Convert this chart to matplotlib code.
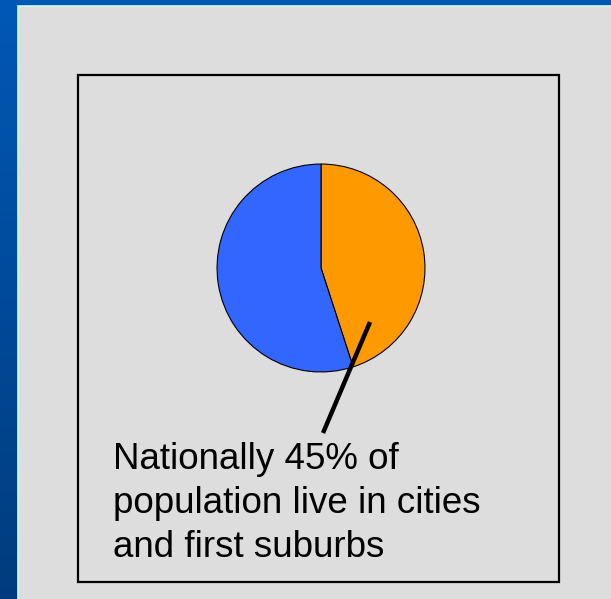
import matplotlib
matplotlib.use("Agg")
import matplotlib.pyplot as plt
import numpy as np
from matplotlib.patches import Rectangle

# share of population: cities + first suburbs vs. the rest
shares = [45, 55]
slice_colors = ["#FF9900", "#3366FF"]
note_lines = ["Nationally 45% of", "population live in cities", "and first suburbs"]

W, H = 611, 599
fig = plt.figure(figsize=(W / 100, H / 100), dpi=100)

# full-figure canvas in pixel units (y downward)
bg = fig.add_axes([0, 0, 1, 1])
bg.set_xlim(0, W)
bg.set_ylim(H, 0)
bg.axis("off")

# blue slide background, slightly darker toward the bottom
grad = np.linspace(0, 1, 256).reshape(-1, 1)
top = np.array([0, 88, 182]) / 255
bot = np.array([0, 60, 125]) / 255
img = top + (bot - top) * grad[..., None]
bg.imshow(img, extent=[0, W, H, 0], aspect="auto", zorder=0)

# grey panel with a thin light edge
bg.add_patch(Rectangle((18, 6), W, H, facecolor="#DDDDDD",
                       edgecolor="#C8FFE6", lw=1.2, zorder=1))
# framed box
bg.add_patch(Rectangle((78, 75), 481, 507, facecolor="none",
                       edgecolor="black", lw=1.6, zorder=2))

# pie
cx, cy, r = 321, 268, 105
pax = fig.add_axes([(cx - r) / W, (H - cy - r) / H, 2 * r / W, 2 * r / H])
pax.pie(shares, colors=slice_colors, startangle=90, counterclock=False,
        radius=1, wedgeprops=dict(edgecolor="black", linewidth=0.8))
pax.set_xlim(-1.01, 1.01)
pax.set_ylim(-1.01, 1.01)
pax.set_aspect("auto")
pax.axis("off")

# overlay for the leader line and callout, above the pie
top_ax = fig.add_axes([0, 0, 1, 1])
top_ax.set_xlim(0, W)
top_ax.set_ylim(H, 0)
top_ax.axis("off")
top_ax.patch.set_alpha(0)

top_ax.plot([370, 323], [322, 433], color="black", lw=3.2,
            solid_capstyle="butt")
for i, line in enumerate(note_lines):
    top_ax.text(113, 469 + 44 * i, line, fontsize=26.5,
                family="Liberation Sans", color="black",
                va="baseline", ha="left")

fig.savefig("out.png", dpi=100)
